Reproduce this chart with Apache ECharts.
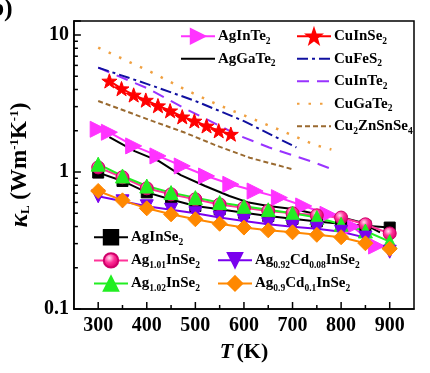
<!DOCTYPE html>
<html><head><meta charset="utf-8">
<script src="https://cdn.jsdelivr.net/npm/echarts@6/dist/echarts.min.js"></script>
<style>html,body{margin:0;padding:0;background:#fff;}#c{width:430px;height:373px;}</style>
</head><body><div id="c"></div>
<script>
// ---- data ----
const T13 = [300,350,400,450,500,550,600,650,700,750,800,850,900];
const agInSe2    = [0.99,0.86,0.71,0.63,0.565,0.534,0.504,0.477,0.455,0.436,0.419,0.405,0.393];
const ag101InSe2 = [1.08,0.915,0.76,0.687,0.632,0.58,0.548,0.52,0.5,0.483,0.465,0.415,0.356];
const ag102InSe2 = [1.14,0.935,0.79,0.707,0.65,0.598,0.562,0.53,0.5,0.465,0.415,0.371,0.31];
const ag092Cd008 = [0.665,0.611,0.562,0.53,0.5,0.465,0.439,0.415,0.398,0.385,0.366,0.332,0.262];
const ag09Cd01   = [0.727,0.621,0.543,0.491,0.452,0.419,0.393,0.375,0.363,0.348,0.334,0.302,0.275];

const agInTe2T = [300,323,373,423,473,523,573,623,673,723,773,823,873];
const agInTe2  = [2.05,1.95,1.55,1.31,1.106,0.935,0.813,0.726,0.65,0.565,0.491,0.4,0.288];

const agGaTe2T = [323,375,425,470,520,570,610,650,705,750,800,840,880];
const agGaTe2  = [1.8,1.42,1.2,0.95,0.79,0.668,0.598,0.565,0.534,0.491,0.467,0.43,0.363];

const cuInSe2T = [323,348,373,398,423,448,473,498,523,548,573];
const cuInSe2  = [4.62,4.06,3.65,3.35,3.05,2.8,2.53,2.36,2.17,2.0,1.89];

const cuFeS2T = [300,400,500,600,708];
const cuFeS2  = [5.78,4.4,3.3,2.35,1.51];

const cuInTe2T = [300,400,475,592,652,746,790];
const cuInTe2  = [5.78,4.1,2.95,1.83,1.51,1.17,1.02];

const cuGaTe2T = [300,411,478,544,612,679,745,780];
const cuGaTe2  = [8.1,5.32,4.01,3.12,2.49,1.99,1.58,1.46];

const cu2ZnSnSe4T = [300,411,478,545,612,699];
const cu2ZnSnSe4  = [3.3,2.36,1.94,1.55,1.27,1.05];

// axis ticks
const xLabelTicks = [300,400,500,600,700,800,900];
const xMinorTicks = [350,450,550,650,750,850];
const yMinorTicks = [0.2,0.3,0.4,0.5,0.6,0.7,0.8,0.9,2,3,4,5,6,7,8,9];

// ---- helpers ----
const pair = (xs, ys) => xs.map((x, i) => [x, ys[i]]);
const FONT = 'Liberation Serif';
const STAR = 'path://M0,-10 L2.35,-3.24 L9.51,-3.09 L3.8,1.24 L5.88,8.09 L0,4 L-5.88,8.09 L-3.8,1.24 L-9.51,-3.09 L-2.35,-3.24 Z';
const lineOnly = ['AgGaTe2', 'CuFeS2', 'CuInTe2', 'CuGaTe2', 'Cu2ZnSnSe4'];

const legendText = {
  'AgInTe2': '{m|AgInTe}{s|2}',
  'AgGaTe2': '{m|AgGaTe}{s|2}',
  'CuInSe2': '{m|CuInSe}{s|2}',
  'CuFeS2': '{m|CuFeS}{s|2}',
  'CuInTe2': '{m|CuInTe}{s|2}',
  'CuGaTe2': '{m|CuGaTe}{s|2}',
  'Cu2ZnSnSe4': '{m|Cu}{s|2}{m|ZnSnSe}{s|4}',
  'AgInSe2': '{m|AgInSe}{s|2}',
  'Ag1.01InSe2': '{m|Ag}{s|1.01}{m|InSe}{s|2}',
  'Ag0.92Cd0.08InSe2': '{m|Ag}{s|0.92}{m|Cd}{s|0.08}{m|InSe}{s|2}',
  'Ag1.02InSe2': '{m|Ag}{s|1.02}{m|InSe}{s|2}',
  'Ag0.9Cd0.1InSe2': '{m|Ag}{s|0.9}{m|Cd}{s|0.1}{m|InSe}{s|2}'
};
const legendRich = {
  m: {fontFamily: FONT, fontWeight: 'bold', fontSize: 15, color: '#000', lineHeight: 20, verticalAlign: 'middle'},
  s: {fontFamily: FONT, fontWeight: 'bold', fontSize: 9.5, color: '#000', lineHeight: 9, verticalAlign: 'bottom'}
};
function mkLegend(names, left, top) {
  return {
    data: names.map(n => lineOnly.indexOf(n) >= 0
      ? {name: n, itemStyle: {opacity: 0, color: 'rgba(0,0,0,0)', borderWidth: 0}}
      : {name: n}),
    orient: 'vertical', left: left, top: top, padding: 0,
    itemGap: 5, itemWidth: 34, itemHeight: 18, selectedMode: false,
    formatter: n => legendText[n],
    textStyle: {rich: legendRich, padding: [0, 0, 0, -2]}
  };
}

function tickSeries(data, dir, len) {
  return {
    type: 'custom', silent: true, z: 10, clip: false,
    data: data,
    renderItem: function (params, api) {
      const p = api.coord([api.value(0), api.value(1)]);
      const shape = dir === 'x'
        ? {x1: p[0], y1: p[1], x2: p[0], y2: p[1] - len}
        : {x1: p[0], y1: p[1], x2: p[0] + len, y2: p[1]};
      return {type: 'line', shape: shape, style: {stroke: '#000', lineWidth: 1.5}};
    }
  };
}

function markSeries(name, xs, ys, color, symbol, size, extra) {
  return Object.assign({
    name: name, type: 'line', data: pair(xs, ys),
    symbol: symbol, symbolSize: size, showAllSymbol: true,
    lineStyle: {color: color, width: 2},
    itemStyle: {color: color, borderColor: color, borderWidth: 1}
  }, extra || {});
}
function plainLine(name, xs, ys, color, dash, width) {
  return {
    name: name, type: 'line', data: pair(xs, ys), symbol: 'none', smooth: false,
    lineStyle: {color: color, width: width || 2, type: dash},
    itemStyle: {color: color}
  };
}

const chart = echarts.init(document.getElementById('c'), null, {renderer: 'canvas'});
const option = {
  animation: false,
  backgroundColor: '#fff',
  grid: {left: 66, right: 16, top: 21, bottom: 64, show: true, borderColor: '#000', borderWidth: 1.5, backgroundColor: 'transparent'},
  xAxis: {
    type: 'value', min: 250, max: 950, interval: 50,
    axisLine: {show: true, lineStyle: {color: '#000', width: 1.5}},
    axisTick: {show: false},
    splitLine: {show: false},
    axisLabel: {
      margin: 7, color: '#000', fontFamily: FONT, fontWeight: 'bold', fontSize: 20,
      formatter: v => xLabelTicks.indexOf(v) >= 0 ? String(v) : ''
    },
    name: '{i|T} {b|(K)}', nameLocation: 'middle', nameGap: 30,
    nameTextStyle: {rich: {
      i: {fontFamily: FONT, fontWeight: 'bold', fontStyle: 'italic', fontSize: 22, color: '#000'},
      b: {fontFamily: FONT, fontWeight: 'bold', fontSize: 22, color: '#000'}
    }}
  },
  yAxis: {
    type: 'log', logBase: 10, min: 0.1, max: 12.65,
    axisLine: {show: true, lineStyle: {color: '#000', width: 1.5}},
    axisTick: {show: true, inside: true, length: 7, lineStyle: {color: '#000', width: 1.5}},
    splitLine: {show: false},
    axisLabel: {
      margin: 5, color: '#000', fontFamily: FONT, fontWeight: 'bold', fontSize: 20,
      formatter: v => {
        const l = Math.log10(v);
        if (Math.abs(l - Math.round(l)) > 1e-6) return '';
        const r = Math.round(l);
        return r === -1 ? '0.1' : r === 0 ? '1' : r === 1 ? '10' : '';
      }
    },
    name: '{k|κ}{ks|L}{n| (Wm}{sp|-1}{n|K}{sp|-1}{n|)}',
    nameLocation: 'middle', nameRotate: 90, nameGap: 31,
    nameTextStyle: {rich: {
      k: {fontFamily: FONT, fontWeight: 'bold', fontStyle: 'italic', fontSize: 25, color: '#000', lineHeight: 24, verticalAlign: 'middle'},
      ks: {fontFamily: FONT, fontWeight: 'bold', fontSize: 13, color: '#000', lineHeight: 12, verticalAlign: 'bottom'},
      n: {fontFamily: FONT, fontWeight: 'bold', fontSize: 23, color: '#000', lineHeight: 24, verticalAlign: 'middle'},
      sp: {fontFamily: FONT, fontWeight: 'bold', fontSize: 13, color: '#000', lineHeight: 12, verticalAlign: 'top'}
    }}
  },
  legend: [
    mkLegend(['AgInTe2', 'AgGaTe2'], 180, 28),
    mkLegend(['CuInSe2', 'CuFeS2', 'CuInTe2', 'CuGaTe2', 'Cu2ZnSnSe4'], 296, 28),
    mkLegend(['AgInSe2', 'Ag1.01InSe2', 'Ag1.02InSe2'], 93, 229),
    mkLegend(['Ag0.92Cd0.08InSe2', 'Ag0.9Cd0.1InSe2'], 217, 252)
  ],
  graphic: [{
    type: 'text', left: -19, top: -4,
    style: {text: '(b)', font: 'bold 26px "Liberation Serif"', fill: '#000'}
  }],
  series: [
    plainLine('AgGaTe2', agGaTe2T, agGaTe2, '#000000', 'solid', 2),
    markSeries('AgInTe2', agInTe2T, agInTe2, '#ff33ff', 'triangle', 16, {symbolRotate: -90}),
    plainLine('CuGaTe2', cuGaTe2T, cuGaTe2, '#f0a040', [2.5, 9], 2.5),
    plainLine('Cu2ZnSnSe4', cu2ZnSnSe4T, cu2ZnSnSe4, '#9a6a30', [5, 3], 2),
    plainLine('CuInTe2', cuInTe2T, cuInTe2, '#9933ff', [12, 8], 2),
    plainLine('CuFeS2', cuFeS2T, cuFeS2, '#1010a0', [11, 4, 3, 4], 2),
    markSeries('CuInSe2', cuInSe2T, cuInSe2, '#ff0000', STAR, 15, {symbolKeepAspect: true}),
    markSeries('AgInSe2', T13, agInSe2, '#000000', 'rect', 11),
    markSeries('Ag1.01InSe2', T13, ag101InSe2, '#ff3399', 'circle', 13, {itemStyle: {
      color: {type: 'radial', x: 0.4, y: 0.35, r: 0.6, colorStops: [{offset: 0, color: '#ffe0f0'}, {offset: 0.5, color: '#ff3399'}, {offset: 1, color: '#e0006e'}]},
      borderColor: '#d0006a', borderWidth: 1}}),
    markSeries('Ag1.02InSe2', T13, ag102InSe2, '#22ee22', 'triangle', 14),
    markSeries('Ag0.92Cd0.08InSe2', T13, ag092Cd008, '#7a00ee', 'triangle', 13, {symbolRotate: 180}),
    markSeries('Ag0.9Cd0.1InSe2', T13, ag09Cd01, '#ff8800', 'diamond', [15, 15]),
    tickSeries(xLabelTicks.map(t => [t, 0.1]), 'x', 7),
    tickSeries(xMinorTicks.map(t => [t, 0.1]), 'x', 4),
    tickSeries(yMinorTicks.map(v => [250, v]), 'y', 4)
  ]
};
chart.setOption(option);
</script>
</body></html>
